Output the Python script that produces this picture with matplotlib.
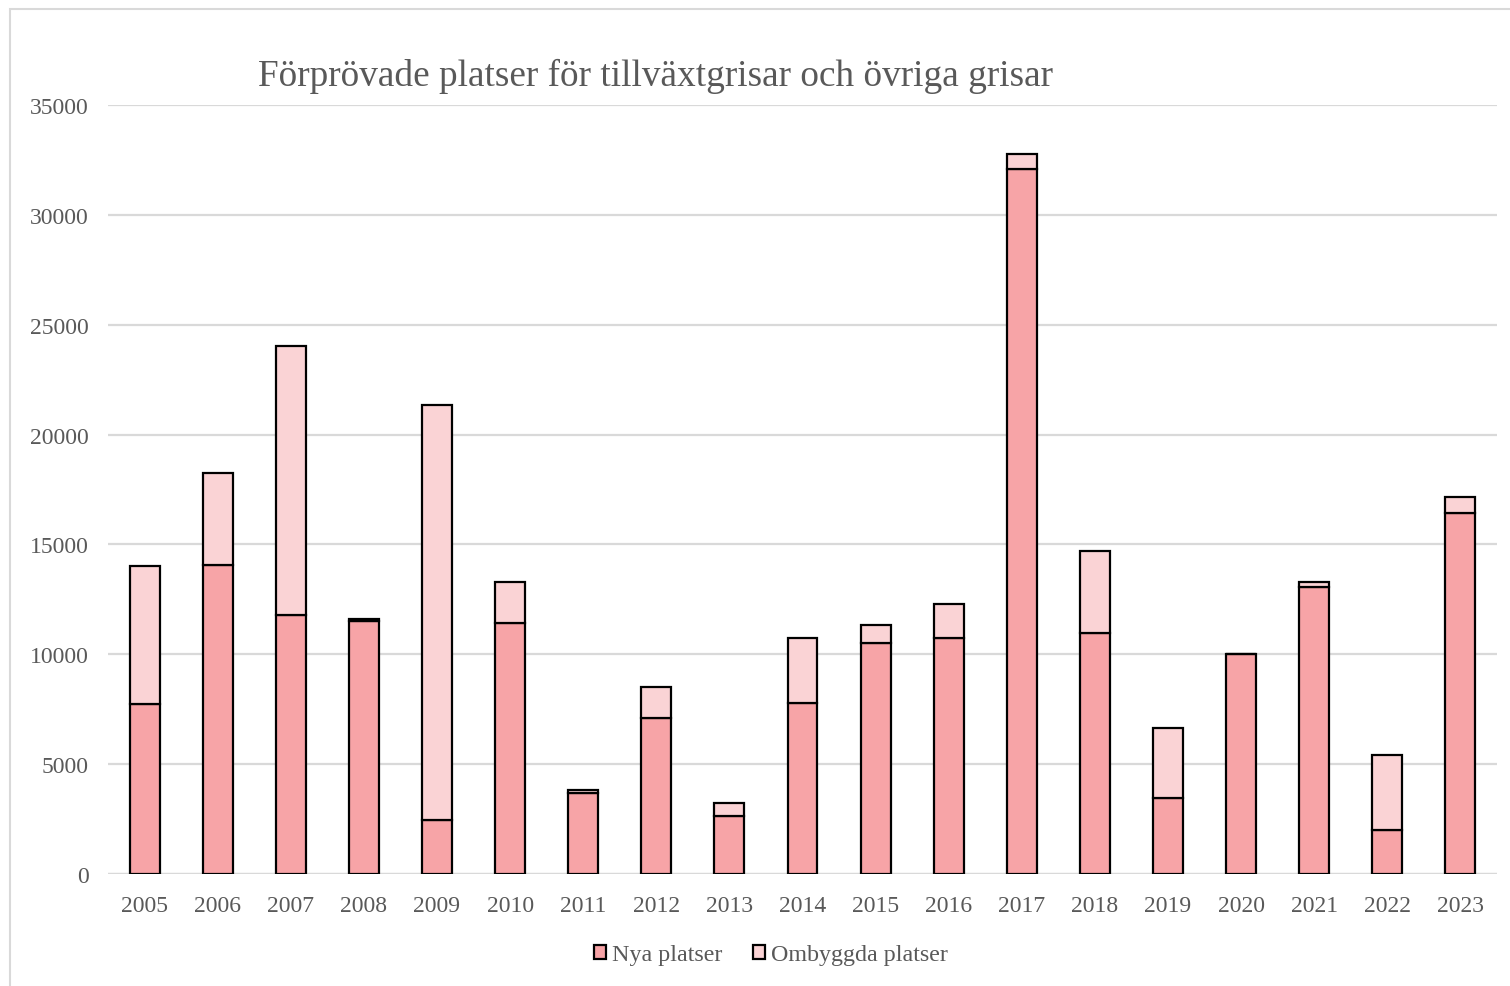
import numpy as np
import matplotlib.pyplot as plt
from matplotlib.patches import Rectangle

plt.rcParams['font.family'] = ['Liberation Serif', 'DejaVu Serif']

# data
years = [str(y) for y in range(2005, 2024)]
nya = [7740, 14060, 11790, 11520, 2460, 11420, 3690, 7100, 2640, 7780,
       10510, 10740, 32090, 10970, 3460, 10010, 13060, 2000, 16430]
totals = [14020, 18250, 24030, 11600, 21350, 13290, 3820, 8510, 3230, 10740,
          11330, 12290, 32770, 14700, 6650, 10030, 13290, 5420, 17160]
ombyggda = [t - n for t, n in zip(totals, nya)]

c_nya = '#F7A4A7'
c_omb = '#FAD3D5'
grey = '#595959'

fig = plt.figure(figsize=(15.1, 9.87), dpi=100)
ax = fig.add_axes([108 / 1510, 1 - 875 / 987, (1497 - 108) / 1510, (875 - 106) / 987])

# light border round the chart area
fig.patches.append(Rectangle((10 / 1510, -0.01), 1.1, 1 - 10 / 987 + 0.01,
                             transform=fig.transFigure, fill=False,
                             edgecolor='#D9D9D9', linewidth=1.5))

x = np.arange(len(years))
ax.bar(x, nya, width=0.41, color=c_nya, edgecolor='black', linewidth=1.6,
       label='Nya platser', zorder=3)
ax.bar(x, ombyggda, width=0.41, bottom=nya, color=c_omb, edgecolor='black',
       linewidth=1.6, label='Ombyggda platser', zorder=3)

ax.set_xlim(-0.5, len(years) - 0.5)
ax.set_ylim(0, 35000)
ax.set_yticks(range(0, 35001, 5000))
ax.set_xticks(x)
ax.set_xticklabels(years)
ax.yaxis.grid(True, color='#D9D9D9', linewidth=1.6, zorder=0)
for s in ax.spines.values():
    s.set_visible(False)
ax.axhline(0, color='#D9D9D9', linewidth=1.6, zorder=1)
ax.tick_params(axis='both', length=0, labelsize=17, colors=grey)
ax.tick_params(axis='y', pad=14)
ax.tick_params(axis='x', pad=15)

fig.text(258 / 1510, 1 - 76 / 987, 'Förprövade platser för tillväxtgrisar och övriga grisar',
         fontsize=26.8, color=grey, ha='left', va='center')

leg = fig.legend(loc='center', bbox_to_anchor=(771 / 1510, 1 - 956 / 987), ncol=2,
                 frameon=False, fontsize=17.3, handlelength=0.5, handleheight=0.5,
                 handletextpad=0.25, columnspacing=1.3)
for t in leg.get_texts():
    t.set_color(grey)

fig.savefig('out.png', dpi=100)
